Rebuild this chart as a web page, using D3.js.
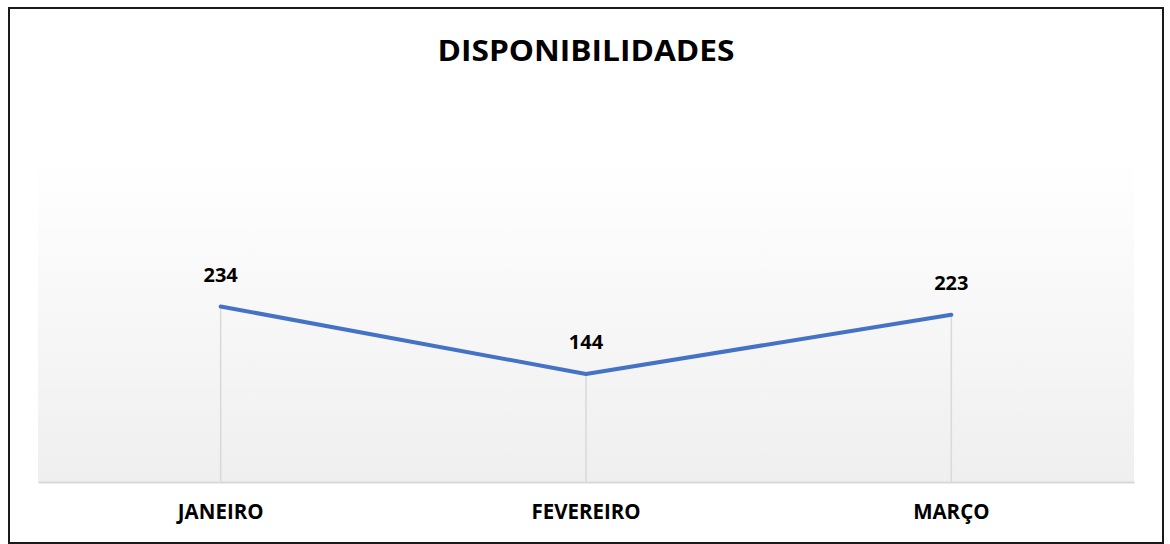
<!DOCTYPE html>
<html>
<head>
<meta charset="utf-8">
<script src="https://cdn.jsdelivr.net/npm/d3@7"></script>
<style>
  body { margin: 0; background: #fff; }
  text { font-family: "Open Sans", sans-serif; font-weight: bold; fill: #000; }
</style>
</head>
<body>
<div id="chart"></div>
<script>
// data
var months = ["JANEIRO", "FEVEREIRO", "MARÇO"];
var values = [234, 144, 223];
var chartTitle = "DISPONIBILIDADES";

var width = 1170;
var height = 544;
var plot = { left: 38, right: 1134, top: 155, bottom: 482 };

var svg = d3.select("#chart")
  .append("svg")
  .attr("width", width)
  .attr("height", height);

// background gradient of the plot area
var defs = svg.append("defs");
var grad = defs.append("linearGradient")
  .attr("id", "plotBg")
  .attr("x1", 0).attr("y1", 0)
  .attr("x2", 0).attr("y2", 1);
grad.append("stop").attr("offset", "0%").attr("stop-color", "#ffffff");
grad.append("stop").attr("offset", "100%").attr("stop-color", "#efefef");

// outer border
svg.append("rect")
  .attr("x", 9)
  .attr("y", 8)
  .attr("width", 1154)
  .attr("height", 535)
  .attr("fill", "#fff")
  .attr("stroke", "#1a1a1a")
  .attr("stroke-width", 2);

svg.append("rect")
  .attr("x", plot.left)
  .attr("y", plot.top)
  .attr("width", plot.right - plot.left)
  .attr("height", plot.bottom - plot.top)
  .attr("fill", "url(#plotBg)");

var data = months.map(function(m, i) {
  return { month: m, value: values[i] };
});

var xScale = d3.scaleBand()
  .domain(months)
  .range([plot.left, plot.right]);

var yScale = d3.scaleLinear()
  .domain([0, 436])
  .range([plot.bottom, plot.top]);

function cx(d) {
  return xScale(d.month) + xScale.bandwidth() / 2;
}

// drop lines
svg.selectAll(".dropLine")
  .data(data)
  .enter()
  .append("line")
  .attr("class", "dropLine")
  .attr("x1", cx)
  .attr("x2", cx)
  .attr("y1", function(d) { return yScale(d.value); })
  .attr("y2", yScale(0))
  .attr("stroke", "#d9d9d9")
  .attr("stroke-width", 1.5);

// x axis
var xAxis = d3.axisBottom(xScale).tickSize(0).tickPadding(0);
var gx = svg.append("g")
  .attr("class", "xAxis")
  .attr("transform", "translate(0," + yScale(0) + ")")
  .call(xAxis);
gx.select(".domain")
  .attr("stroke", "#d9d9d9")
  .attr("stroke-width", 2);
gx.selectAll(".tick text")
  .attr("y", 37)
  .attr("dy", null)
  .attr("font-size", 20.5)
  .attr("font-family", "'Open Sans', sans-serif")
  .attr("font-weight", "bold")
  .attr("fill", "#000");

// line
var line = d3.line()
  .x(cx)
  .y(function(d) { return yScale(d.value); });

svg.append("path")
  .datum(data)
  .attr("d", line)
  .attr("fill", "none")
  .attr("stroke", "#4472c4")
  .attr("stroke-width", 4)
  .attr("stroke-linecap", "round")
  .attr("stroke-linejoin", "round");

// value labels
svg.selectAll(".valueLabel")
  .data(data)
  .enter()
  .append("text")
  .attr("class", "valueLabel")
  .attr("x", cx)
  .attr("y", function(d) { return yScale(d.value) - 25; })
  .attr("text-anchor", "middle")
  .attr("font-size", 20)
  .text(function(d) { return d.value; });

// title (the original is drawn wide, so stretch it a little)
svg.append("text")
  .attr("x", (plot.left + plot.right) / 2)
  .attr("y", 61)
  .attr("text-anchor", "middle")
  .attr("font-size", 28)
  .attr("textLength", 297)
  .attr("lengthAdjust", "spacingAndGlyphs")
  .text(chartTitle);
</script>
</body>
</html>
